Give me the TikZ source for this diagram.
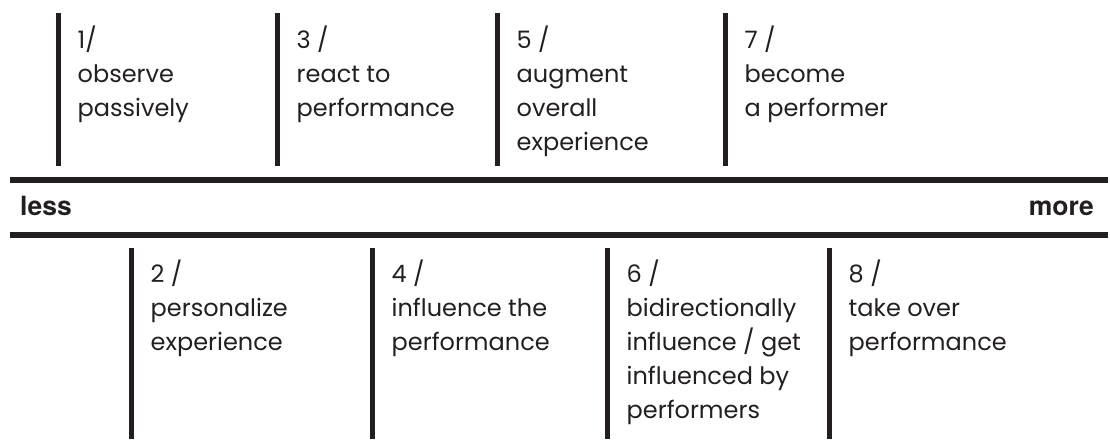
\documentclass[tikz,border=0pt]{standalone}
\usepackage{fontspec}
\setmainfont{Poppins}
\newfontfamily\endfont{TeX Gyre Heros}
\definecolor{ink}{HTML}{231F20}

\begin{document}
\begin{tikzpicture}[x=1pt,y=-1pt,
  stage/.style={anchor=north west, align=left, inner sep=0pt, text=ink,
    font=\fontsize{24}{34}\selectfont},
  bar/.style={draw=ink, line width=5pt},
  axis/.style={draw=ink, line width=5.5pt},
  endlabel/.style={inner sep=0pt, text=ink, font=\endfont\bfseries\fontsize{26.5}{30}\selectfont}]
  \useasboundingbox (0,0) rectangle (1110,439);
  % the scale in the middle
  \draw[axis] (10,180) -- (1108,180);
  \draw[axis] (10,235) -- (1108,235);
  \node[endlabel, anchor=base west] (less) at (20,215) {less};
  \node[endlabel, anchor=base east] (more) at (1094,215) {more};
  % odd stages above the scale (first baseline 18pt below the node top)
  \foreach \n/\x/\txt in {s1/58.5/{1/\\observe\\passively},
                          s3/277.5/{3 /\\react to\\performance},
                          s5/497.5/{5 /\\augment\\overall\\experience},
                          s7/725.5/{7 /\\become\\a performer}}
  {
    \draw[bar] (\x,13) -- (\x,166);
    \node[stage] (\n) at (\x+19,44-18) {\rule{0pt}{18pt}\txt};
  }
  % even stages below it
  \foreach \n/\x/\txt in {s2/131.5/{2 /\\personalize\\experience},
                          s4/372.5/{4 /\\influence the\\performance},
                          s6/607.5/{6 /\\bidirectionally\\influence / get\\influenced by\\performers},
                          s8/829.5/{8 /\\take over\\performance}}
  {
    \draw[bar] (\x,248) -- (\x,439);
    \node[stage] (\n) at (\x+19,278-18) {\rule{0pt}{18pt}\txt};
  }
\end{tikzpicture}
\end{document}
